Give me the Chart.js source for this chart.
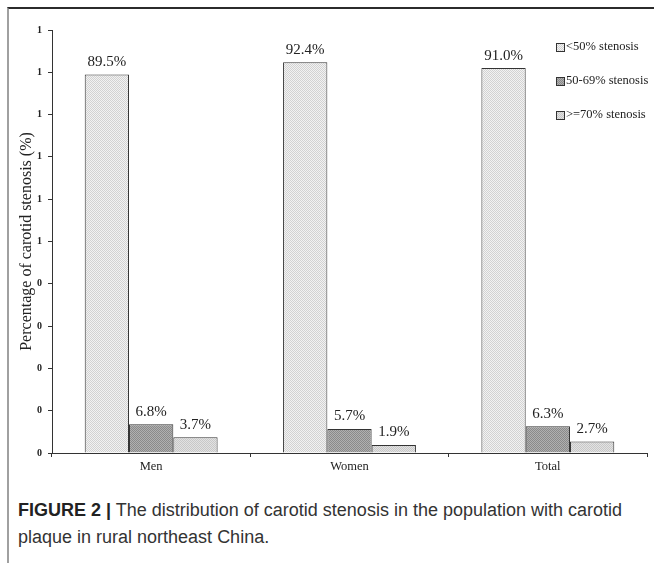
<!DOCTYPE html>
<html>
<head>
<meta charset="utf-8">
<script src="https://cdn.jsdelivr.net/npm/chart.js@4/dist/chart.umd.min.js"></script>
<style>
  body { margin: 0; background: #fff; }
  .page { position: relative; width: 654px; height: 563px; overflow: hidden; background: #fff; }
  .frame {
    position: absolute; left: 7px; top: 7px; width: 647px; height: 556px;
    border-top: 2px solid #2b2b2b; border-left: 2px solid #a0a0a0; box-sizing: border-box;
  }
  .chart-box { position: absolute; left: 9px; top: 9px; width: 645px; height: 480px; }
  .caption {
    position: absolute; left: 18px; top: 497px; width: 636px;
    font-family: 'Liberation Sans', Arial, sans-serif; font-size: 18px;
    line-height: 27px; color: #333; white-space: nowrap;
  }
  .caption b { color: #222; }
</style>
</head>
<body>
<div class="page">
  <div class="frame"></div>
  <div class="chart-box"><canvas id="stenosisChart" width="645" height="480"></canvas></div>
  <div class="caption"><b>FIGURE 2 |</b> The distribution of carotid stenosis in the population with carotid<br>plaque in rural northeast China.</div>
</div>
<script>
'use strict';

const groups = ['Men', 'Women', 'Total'];
const seriesNames = ['<50% stenosis', '50-69% stenosis', '>=70% stenosis'];
const below50 = [89.5, 92.4, 91.0];
const mid50to69 = [6.8, 5.7, 6.3];
const above70 = [3.7, 1.9, 2.7];
const yTicks = [0, 10, 20, 30, 40, 50, 60, 70, 80, 90, 100];

const serif = "'Liberation Serif', 'Times New Roman', serif";

// stipple fills like the printed figure
const makePattern = function (light, dark) {
  const c = document.createElement('canvas');
  c.width = 2;
  c.height = 2;
  const g = c.getContext('2d');
  g.fillStyle = light;
  g.fillRect(0, 0, 2, 2);
  g.fillStyle = dark;
  g.fillRect(0, 0, 1, 1);
  g.fillRect(1, 1, 1, 1);
  return g.createPattern(c, 'repeat');
};

const fills = [
  makePattern('#f2f2f2', '#d2d2d2'),
  makePattern('#b0b0b0', '#8a8a8a'),
  makePattern('#e2e2e2', '#c8c8c8'),
];

// value labels above each bar
const valueLabels = {
  id: 'valueLabels',
  afterDatasetsDraw(chart) {
    const { ctx } = chart;
    ctx.save();
    ctx.font = `15px ${serif}`;
    ctx.fillStyle = '#222';
    ctx.textAlign = 'center';
    ctx.textBaseline = 'bottom';
    chart.data.datasets.forEach((ds, i) => {
      chart.getDatasetMeta(i).data.forEach((bar, j) => {
        ctx.fillText(`${ds.data[j].toFixed(1)}%`, bar.x, bar.y - 5);
      });
    });
    ctx.restore();
  },
};

// legend inside the plot, top right
const insideLegend = {
  id: 'insideLegend',
  afterDraw(chart) {
    const { ctx, chartArea } = chart;
    const x = chartArea.right - 91;
    ctx.save();
    ctx.font = `12.5px ${serif}`;
    ctx.textBaseline = 'middle';
    chart.data.datasets.forEach((ds, i) => {
      const y = chartArea.top + 17 + i * 34;
      ctx.fillStyle = ds.backgroundColor;
      ctx.fillRect(x, y - 4, 9, 9);
      ctx.strokeStyle = '#333';
      ctx.lineWidth = 1;
      ctx.strokeRect(x + 0.5, y - 3.5, 8, 8);
      ctx.fillStyle = '#222';
      ctx.fillText(ds.label, x + 10, y);
    });
    ctx.restore();
  },
};

const ctx = document.querySelector('#stenosisChart').getContext('2d');

new Chart(ctx, {
  type: 'bar',
  data: {
    labels: groups,
    datasets: [
      { label: seriesNames[0], data: below50, backgroundColor: fills[0] },
      { label: seriesNames[1], data: mid50to69, backgroundColor: fills[1] },
      { label: seriesNames[2], data: above70, backgroundColor: fills[2] },
    ],
  },
  options: {
    responsive: false,
    animation: false,
    layout: {
      padding: { left: 8, right: 7, top: 21, bottom: 0 },
    },
    datasets: {
      bar: {
        borderColor: '#333',
        borderWidth: 1,
        borderSkipped: 'bottom',
        categoryPercentage: 0.67,
        barPercentage: 1.0,
      },
    },
    plugins: {
      legend: { display: false },
      tooltip: { enabled: false },
    },
    scales: {
      x: {
        afterFit: scale => (scale.height = 36),
        border: { display: true, color: '#333', width: 1 },
        grid: {
          offset: true,
          drawOnChartArea: false,
          drawTicks: true,
          tickLength: 4,
          color: '#333',
        },
        ticks: {
          color: '#222',
          font: { family: serif, size: 12.5 },
          padding: 2,
        },
      },
      y: {
        min: 0,
        max: 100,
        afterFit: scale => (scale.width = 35),
        afterBuildTicks: scale => (scale.ticks = yTicks.map(v => ({ value: v }))),
        border: { display: true, color: '#333', width: 1 },
        grid: {
          drawOnChartArea: false,
          drawTicks: true,
          tickLength: 4,
          color: '#333',
        },
        ticks: {
          color: '#222',
          font: { family: serif, size: 10, weight: 'bold' },
          padding: 6,
          callback: v => Math.round(v / 100),
        },
        title: {
          display: true,
          text: 'Percentage of carotid stenosis (%)',
          color: '#222',
          font: { family: serif, size: 16 },
          padding: 0,
        },
      },
    },
  },
  plugins: [valueLabels, insideLegend],
});
</script>
</body>
</html>
